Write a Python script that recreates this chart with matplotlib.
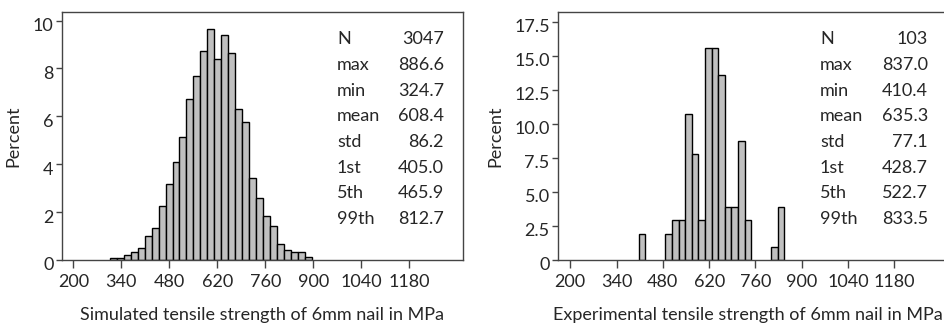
"""
Tensile strength histograms: simulated vs experimental 6mm nails
"""
import numpy as np
import matplotlib.pyplot as plt
from matplotlib.transforms import ScaledTranslation

plt.rcParams['font.family'] = ['Lato', 'DejaVu Sans']
plt.rcParams['font.size'] = 13

# Simulated strength: percent per bin
sim_start = 306.0
sim_width = 20.35
sim_pct = [0.07, 0.07, 0.22, 0.32, 0.49, 0.99, 1.32, 2.24, 3.18, 4.11,
           5.13, 6.71, 7.70, 8.72, 9.64, 8.38, 9.40, 8.65, 6.31, 5.78,
           3.44, 2.58, 1.82, 1.41, 0.65, 0.42, 0.32, 0.32, 0.14]

# Experimental strength: counts per bin (N = 103)
exp_start = 407.4
exp_width = 20.0
exp_counts = [2, 0, 0, 0, 2, 3, 3, 11, 8, 3, 16, 16, 14, 4, 4, 9, 3,
              0, 0, 0, 1, 4]

stat_names = ['N', 'max', 'min', 'mean', 'std', '1st', '5th', '99th']
sim_stats = ['3047', '886.6', '324.7', '608.4', '86.2', '405.0', '465.9', '812.7']
exp_stats = ['103', '837.0', '410.4', '635.3', '77.1', '428.7', '522.7', '833.5']

xticks = [200, 340, 480, 620, 760, 900, 1040, 1180]
sim_yticks = [0, 2, 4, 6, 8, 10]
sim_ylabels = ['0', '2', '4', '6', '8', '10']
exp_yticks = [0, 2.5, 5.0, 7.5, 10.0, 12.5, 15.0, 17.5]
exp_ylabels = ['0', '2.5', '5.0', '7.5', '10.0', '12.5', '15.0', '17.5']

W, H = 944, 326
fig = plt.figure(figsize=(W / 100, H / 100), dpi=100)
ax1 = fig.add_axes([62 / W, 1 - 260 / H, (463 - 62) / W, 248 / H])
ax2 = fig.add_axes([558 / W, 1 - 260 / H, (946 - 558) / W, 248 / H])

TXT = '#262626'
SPN = '#444444'


def draw_hist(ax, start, width, heights):
    edges = start + width * np.arange(len(heights))
    h = np.asarray(heights, dtype=float)
    keep = h > 0
    ax.bar(edges[keep], h[keep], width=width, align='edge',
           color='#c0c0c0', edgecolor='black', linewidth=1.0)


def style(ax, xlim, ylim, yticks, ylabels, xlabel):
    ax.set_xlim(xlim)
    ax.set_ylim(ylim)
    ax.set_xticks(xticks)
    ax.set_xticklabels([str(t) for t in xticks])
    ax.set_yticks(yticks)
    ax.set_yticklabels(ylabels)
    ax.tick_params(direction='out', width=1, color=SPN,
                   labelcolor=TXT, labelsize=13)
    ax.tick_params(axis='x', length=6, pad=4)
    ax.tick_params(axis='y', length=4, pad=2)
    # y labels sit a little below their ticks
    shift = ScaledTranslation(0, -4 / 100, fig.dpi_scale_trans)
    for lab in ax.get_yticklabels():
        lab.set_transform(lab.get_transform() + shift)
    for s in ax.spines.values():
        s.set_color(SPN)
        s.set_linewidth(1.0)
    ax.set_xlabel(xlabel, color=TXT, labelpad=12.5)
    ax.set_ylabel('Percent', color=TXT, labelpad=8)


def stats_box(ax, x_name, x_val, vals):
    for i, (n, v) in enumerate(zip(stat_names, vals)):
        y = 1 - (39.3 - 12 + i * 25.7) / 248
        ax.text(x_name, y, n, transform=ax.transAxes, ha='left',
                va='center', color=TXT, fontsize=13)
        ax.text(x_val, y, v, transform=ax.transAxes, ha='right',
                va='center', color=TXT, fontsize=13)


draw_hist(ax1, sim_start, sim_width, sim_pct)
style(ax1, (167, 1336), (0, 10.36), sim_yticks, sim_ylabels,
      'Simulated tensile strength of 6mm nail in MPa')
stats_box(ax1, (337 - 62) / 401, (444 - 62) / 401, sim_stats)

exp_pct = np.array(exp_counts) / 103 * 100
draw_hist(ax2, exp_start, exp_width, exp_pct)
style(ax2, (163, 1336), (0, 18.2), exp_yticks, exp_ylabels,
      'Experimental tensile strength of 6mm nail in MPa')
stats_box(ax2, (820 - 558) / 388, (928 - 558) / 388, exp_stats)

# right axis title: same height as the left one, nudged left to stay on canvas
fig.canvas.draw()
top = ax1.xaxis.label.get_window_extent().y1
y_ax = ax2.transAxes.inverted().transform((0, top))[1]
ax2.xaxis.set_label_coords((748 - 558) / 388, y_ax)

fig.savefig('out.png', dpi=100)
